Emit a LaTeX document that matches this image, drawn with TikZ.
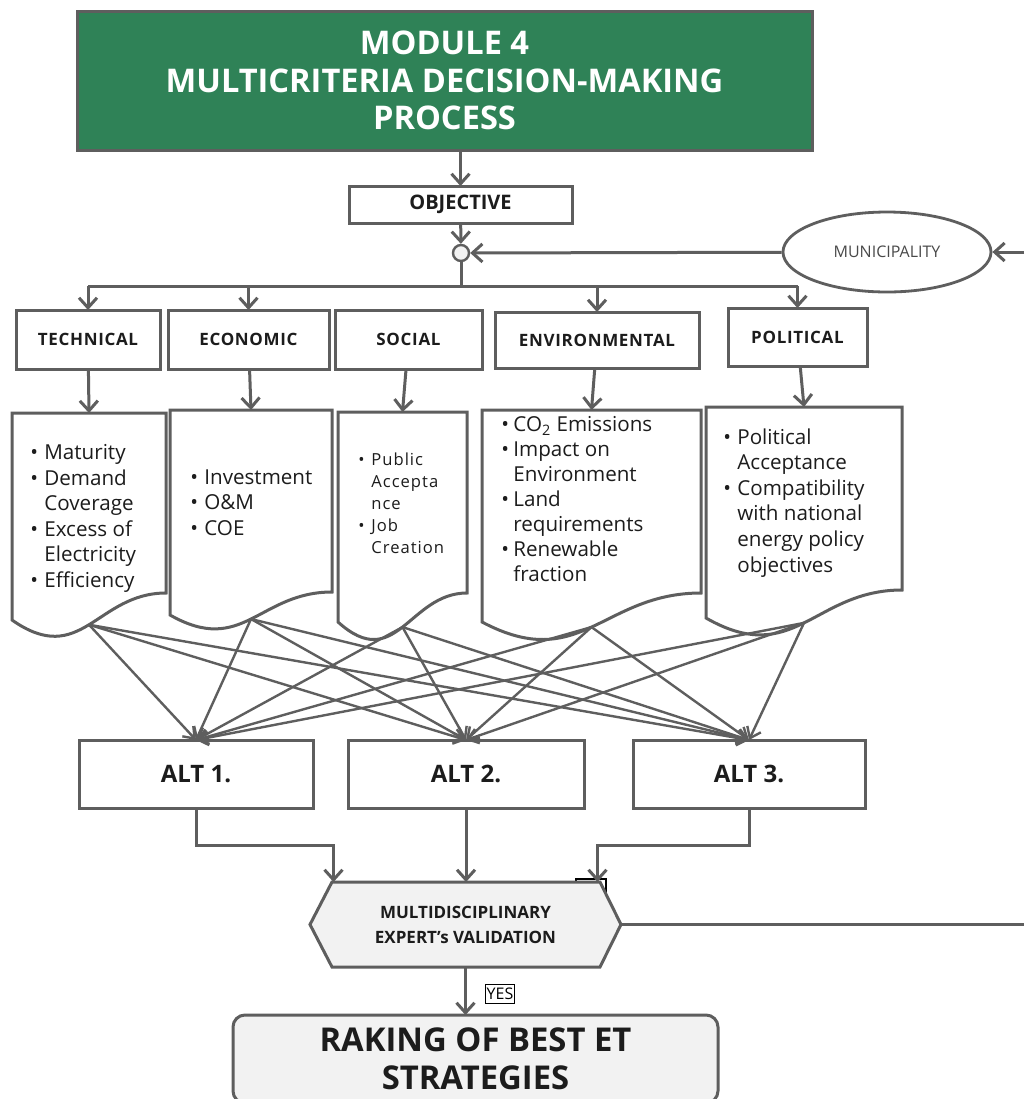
\documentclass[tikz,border=0pt]{standalone}
\usepackage{fontspec}
\setmainfont{Open Sans}
\usetikzlibrary{arrows.meta,shapes.geometric}
\definecolor{strokegray}{HTML}{5E5E5E}
\definecolor{ink}{HTML}{1C1C1C}
\definecolor{modgreen}{HTML}{2F8257}
\definecolor{panel}{HTML}{F2F2F2}
\tikzset{
header/.style={draw=strokegray,line width=1.5pt,fill=modgreen,text=white,font=\fontsize{16.3}{18.7}\selectfont\bfseries,align=center,inner sep=0pt,outer sep=0pt},
crit/.style={draw=strokegray,line width=1.5pt,fill=white,text=ink,font=\fontsize{8.5}{10}\selectfont\bfseries\addfontfeatures{LetterSpace=4},align=center,inner sep=0pt,outer sep=0pt},
alt/.style={crit,font=\fontsize{12}{14}\selectfont\bfseries,minimum width=117pt,minimum height=34pt},
doc/.style={draw=strokegray,line width=1.5pt,fill=white},
doctxt/.style={text=ink,font=\fontsize{10.3}{12.8}\selectfont,align=left,inner sep=0pt,anchor=north west},
flow/.style={draw=strokegray,line width=1.5pt,-{Straight Barb[length=5pt,width=9pt]}},
link/.style={draw=strokegray,line width=1.2pt,-{Straight Barb[length=5pt,width=7.5pt]}},
wire/.style={draw=strokegray,line width=1.5pt}
}
% bullet and hanging indent for the criteria lists
\newcommand{\dbul}[1][7pt]{\makebox[#1][l]{\textbullet}}
\newcommand{\dind}[1][7pt]{\hspace*{#1}}
% document outline: name, left, right, top, right foot, left foot
\newcommand{\docshape}[6]{%
\draw[doc] (#2,#4) -- (#3,#4) -- (#3,#5) .. controls ({#2+0.55*(#3-#2)},#5) and ({#2+0.45*(#3-#2)},{#6+1.8*(#6-#5)}) .. (#2,#6) coordinate[pos=0.5] (#1o) -- cycle;
\coordinate (#1n) at ({(#2+#3)/2},#4);}

\begin{document}
\begin{tikzpicture}[x=0.5pt,y=-0.5pt]
\useasboundingbox (0,0) rectangle (1024,1099);
\fill[white] (0,0) rectangle (1024,1099);
% header and objective
\node[header,minimum width=367.5pt,minimum height=69.5pt](mod) at (444.5,80.5){MODULE 4\\MULTICRITERIA DECISION-MAKING\\PROCESS};
\node[crit,font=\fontsize{10}{12}\selectfont\bfseries,minimum width=111.5pt,minimum height=18.5pt](obj) at (460.5,204.5){OBJECTIVE};
\node[circle,draw=strokegray,line width=1.2pt,fill=panel,minimum size=8pt,inner sep=0pt](junc) at (461,253){};
\node[ellipse,draw=strokegray,line width=1.4pt,minimum width=104pt,minimum height=40pt,font=\fontsize{8}{9}\selectfont,text=ink!80](muni) at (887,252){MUNICIPALITY};
\coordinate (inR) at (1024,252);
\coordinate (bus) at (461,286);
\draw[flow](obj.north |- mod.south)--(obj.north);
\draw[flow](obj)--(junc);
\draw[flow](inR)--(muni);
\draw[flow](muni)--(junc);
% criteria
\node[crit,minimum width=72pt,minimum height=29.5pt](tech) at (88,339.5){TECHNICAL};
\node[crit,minimum width=80.5pt,minimum height=29.5pt](econ) at (248.5,339.5){ECONOMIC};
\node[crit,minimum width=73.5pt,minimum height=29.5pt](soc) at (408.5,339.5){SOCIAL};
\node[crit,minimum width=102pt,minimum height=28pt](env) at (597,340){ENVIRONMENTAL};
\node[crit,minimum width=69.5pt,minimum height=29pt](pol) at (797.5,337){POLITICAL};
\draw[wire](junc)--(bus);
\draw[wire](tech.north |- bus)--(pol.north |- bus);
\foreach \c in {tech,econ,env,pol} \draw[flow](\c.north |- bus)--(\c.north);
% criteria lists
\docshape{d1}{12}{166}{413}{593}{620}
\docshape{d2}{170}{332}{410}{592}{615}
\docshape{d3}{338}{467}{412}{593}{622}
\docshape{d4}{482}{701}{410}{593}{622}
\docshape{d5}{706}{902}{407}{590}{618}
\draw[flow](tech)--(d1n);\draw[flow](econ)--(d2n);\draw[flow](soc)--(d3n);\draw[flow](env)--(d4n);\draw[flow](pol)--(d5n);
\node[doctxt](t1) at (30,444){\dbul Maturity\\\dbul Demand\\\dind Coverage\\\dbul Excess of\\\dind Electricity\\\dbul Efficiency};
\node[doctxt](t2) at (190,469){\dbul Investment\\\dbul O\&M\\\dbul COE};
\node[doctxt,font=\fontsize{8.3}{11}\selectfont\addfontfeatures{LetterSpace=6}](t3) at (358,452){\dbul[6.5pt]Public\\\dind[6.5pt]Accepta\\\dind[6.5pt]nce\\\dbul[6.5pt]Job\\\dind[6.5pt]Creation};
\node[doctxt,font=\fontsize{10.3}{12.5}\selectfont](t4) at (501,416){\dbul[6pt]CO\textsubscript{2} Emissions\\\dbul[6pt]Impact on\\\dind[6pt]Environment\\\dbul[6pt]Land\\\dind[6pt]requirements\\\dbul[6pt]Renewable\\\dind[6pt]fraction};
\node[doctxt](t5) at (723,428){\dbul Political\\\dind Acceptance\\\dbul Compatibility\\\dind with national\\\dind energy policy\\\dind objectives};
% alternatives
\node[alt](alt1) at (196,774){ALT 1.};
\node[alt,minimum width=118pt](alt2) at (466,774){ALT 2.};
\node[alt,minimum width=116pt](alt3) at (749,774){ALT 3.};
\foreach \s in {d1o,d2o,d3o,d4o,d5o}
  \foreach \t in {alt1,alt2,alt3} \draw[link](\s)--(\t.north);
% validation
\draw[draw=black,line width=0.6pt](576,879) rectangle (606,900);
\draw[doc,fill=panel](310,924.5)--(332,882)--(600,882)--(621,924.5)--(600,967)--(332,967)--cycle;
\node[font=\fontsize{8.5}{12.5}\selectfont\bfseries,text=ink,align=center,minimum width=155.5pt,minimum height=42.5pt,inner sep=0pt,outer sep=0pt](valid) at (465.5,924.5){MULTIDISCIPLINARY\\EXPERT’s VALIDATION};
\draw[flow](alt1.south)--++(0,37)-|([xshift=-66pt]valid.north);
\draw[flow](alt2.south)--(alt2.south |- valid.north);
\draw[flow](alt3.south)--++(0,37)-|([xshift=66pt]valid.north);
\coordinate (outR) at (1024,924.5);
\draw[wire,line width=1.2pt](valid.east)--(outR);
% ranking
\node[draw=strokegray,line width=1.5pt,fill=panel,rounded corners=6pt,minimum width=242.5pt,minimum height=44pt,font=\fontsize{16.4}{19}\selectfont\bfseries,text=ink,align=center,outer sep=0pt](rank) at (475.5,1059){RAKING OF BEST ET\\STRATEGIES};
\draw[flow](valid.south)--(valid.south |- rank.north);
\node[draw=black,line width=0.5pt,font=\fontsize{8}{9}\selectfont,inner xsep=0.6pt,inner ysep=1.8pt](yes) at (500,994){YES};
\end{tikzpicture}
\end{document}
